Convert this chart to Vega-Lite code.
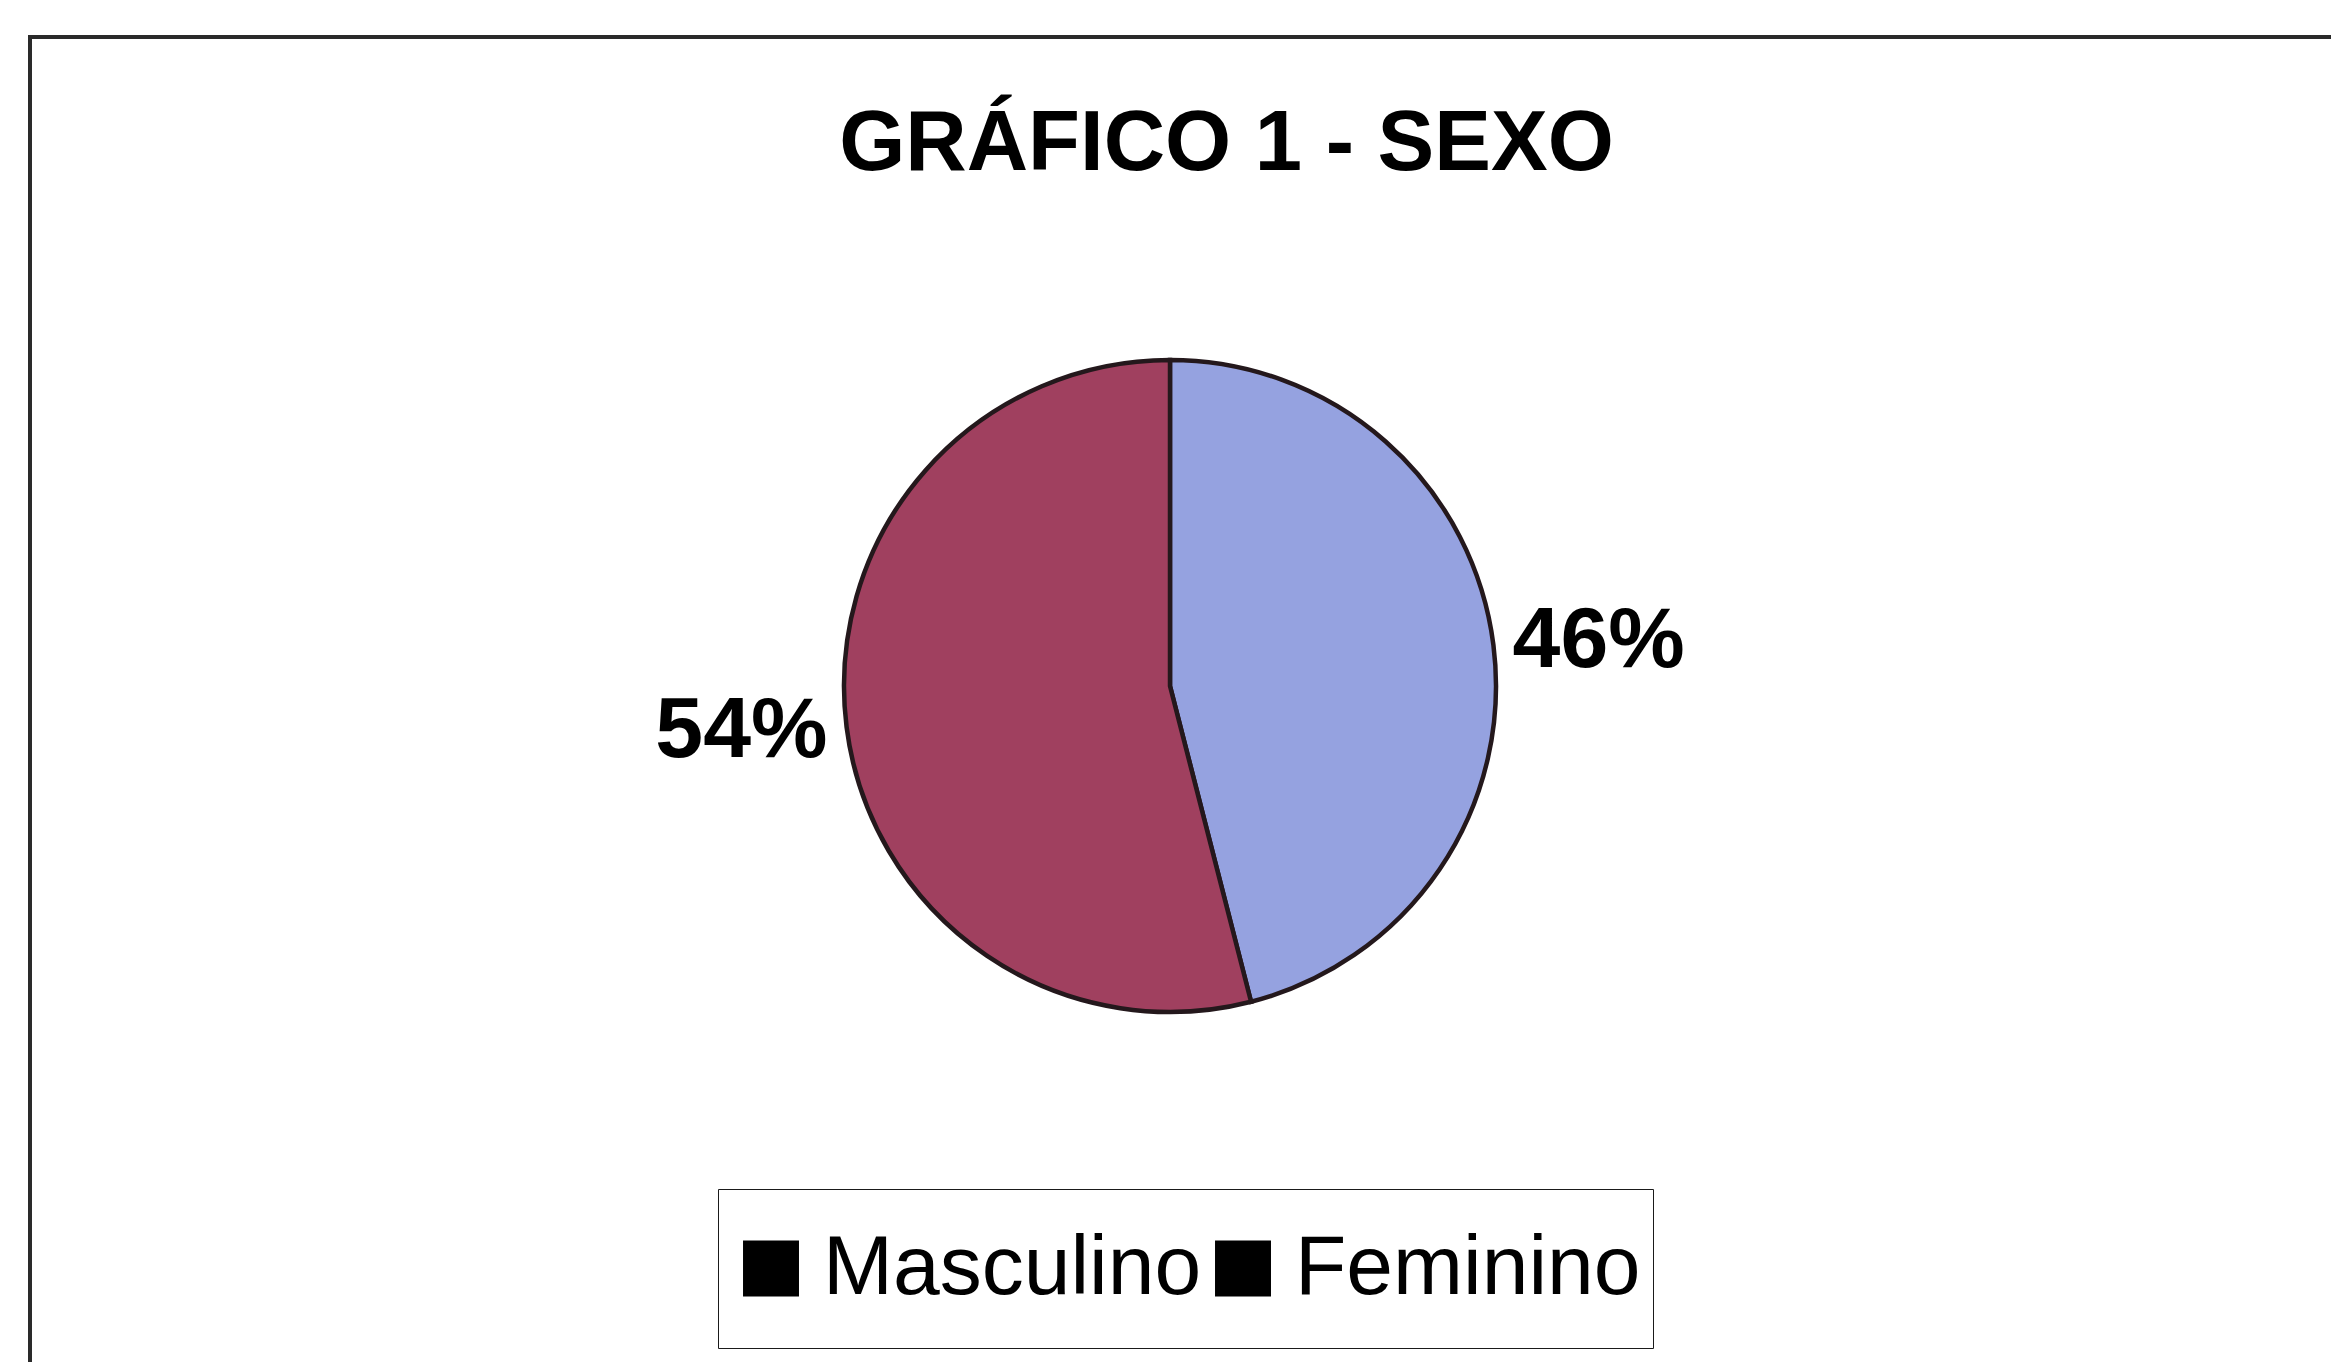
{
  "$schema": "https://vega.github.io/schema/vega-lite/v6.json",
  "width": 2331,
  "height": 1362,
  "autosize": {"type": "none"},
  "padding": {"left": 30, "top": 37, "right": 0, "bottom": 0},
  "background": "white",
  "view": {"stroke": "#2a2a2a", "strokeWidth": 4},
  "title": {
    "text": "GRÁFICO 1 - SEXO",
    "frame": "group",
    "anchor": "middle",
    "offset": -218,
    "baseline": "alphabetic",
    "dx": 31,
    "font": "Liberation Sans",
    "fontSize": 85,
    "fontWeight": "bold",
    "color": "black"
  },
  "data": {"values": [
    {"sexo": "Masculino", "pct": 0.46},
    {"sexo": "Feminino", "pct": 0.54}
  ]},
  "resolve": {"scale": {"theta": "independent"}},
  "layer": [
    {
      "mark": {"type": "point", "filled": true, "size": 0, "color": "black"},
      "encoding": {
        "shape": {
          "field": "sexo",
          "type": "nominal",
          "scale": {
            "domain": ["Masculino", "Feminino"],
            "range": ["M -1 -1 L -1 1 M -0.807 -0.415 H 0.022 V 0.415 H -0.807 Z", "M -1 -1 L -1 1 M -0.807 -0.415 H 0.022 V 0.415 H -0.807 Z"]
          },
          "legend": {
            "title": null,
            "orient": "none",
            "legendX": 688,
            "legendY": 1152,
            "direction": "horizontal",
            "symbolSize": 18225,
            "symbolStrokeWidth": 0,
            "symbolFillColor": "black",
            "symbolOpacity": 1,
            "labelFont": "Liberation Sans",
            "labelFontSize": 84,
            "labelColor": "black",
            "labelLimit": 1000,
            "labelOffset": -42,
            "columnPadding": 0,
            "padding": 12,
            "strokeColor": "#1a1a1a"
          }
        }
      }
    },
    {
      "mark": {"type": "arc", "outerRadius": 326, "stroke": "#24181c", "strokeWidth": 4.5, "xOffset": -25.5, "yOffset": -32},
      "encoding": {
        "theta": {"field": "pct", "type": "quantitative", "stack": true},
        "order": {"field": "sexo", "sort": "descending"},
        "color": {
          "field": "sexo",
          "type": "nominal",
          "scale": {"domain": ["Feminino", "Masculino"], "range": ["#a0405f", "#95a2e0"]},
          "legend": null
        }
      }
    },
    {
      "mark": {"type": "text", "radius": 431, "xOffset": -25.5, "yOffset": -32, "font": "Liberation Sans", "fontSize": 86, "fontWeight": "bold", "align": "center", "baseline": "middle"},
      "encoding": {
        "theta": {"field": "pct", "type": "quantitative", "stack": true, "scale": {"range": [0.021, 6.304]}},
        "order": {"field": "sexo", "sort": "descending"},
        "text": {"field": "pct", "type": "quantitative", "format": ".0%"},
        "color": {"value": "black"}
      }
    }
  ]
}
